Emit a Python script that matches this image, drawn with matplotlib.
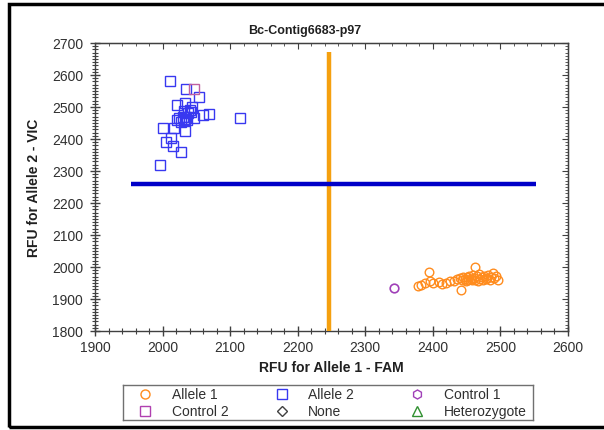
import matplotlib
matplotlib.use("Agg")
import matplotlib.pyplot as plt
from matplotlib.patches import Rectangle
from matplotlib.ticker import MultipleLocator

plt.rcParams['font.family'] = ['Liberation Sans', 'DejaVu Sans']

title = "Bc-Contig6683-p97"
xlabel = "RFU for Allele 1 - FAM"
ylabel = "RFU for Allele 2 - VIC"

# Allele 2 (blue squares)
allele2_x = [2011, 2035, 2054, 2021, 2033, 2043, 2031, 2060, 2068, 2114, 2021, 2033,
             2047, 2028, 2001, 2017, 2033, 2012, 2005, 2016, 2028, 1996,
             2035, 2038, 2030, 2040, 2025, 2036, 2042]
allele2_y = [2582, 2555, 2531, 2505, 2512, 2501, 2488, 2476, 2478, 2465, 2460, 2462,
             2465, 2452, 2434, 2434, 2426, 2403, 2392, 2379, 2360, 2320,
             2470, 2480, 2470, 2490, 2465, 2458, 2485]

# Control 2 (purple square)
control2_x = [2047]
control2_y = [2555]

# Allele 1 (orange circles)
allele1_x = [2378, 2383, 2389, 2394, 2396, 2400, 2409, 2413, 2419, 2425, 2432, 2436,
             2440, 2441, 2443, 2445, 2447, 2449, 2451, 2452, 2454, 2456, 2458, 2459,
             2461, 2463, 2463, 2465, 2467, 2468, 2470, 2472, 2474, 2476, 2478, 2480,
             2482, 2484, 2486, 2489, 2491, 2494, 2496]
allele1_y = [1940, 1944, 1949, 1983, 1956, 1950, 1952, 1947, 1949, 1955, 1957, 1962,
             1966, 1929, 1958, 1970, 1962, 1955, 1968, 1960, 1972, 1963, 1958, 1975,
             1966, 1999, 1960, 1971, 1957, 1978, 1964, 1968, 1959, 1973, 1962, 1967,
             1976, 1960, 1970, 1981, 1965, 1972, 1958]

# Control 1 (purple circle)
control1_x = [2342]
control1_y = [1933]

# Threshold lines
vline_x = 2247
vline_y = [1800, 2672]
hline_y = 2259
hline_x = [1953, 2553]

legend_labels = ["Allele 1", "Allele 2", "Control 1", "Control 2", "None", "Heterozygote"]

W, H = 604, 431
fig = plt.figure(figsize=(W / 100, H / 100), dpi=100)

ax = fig.add_axes([95 / W, 1 - 332 / H, (568 - 95) / W, (332 - 44) / H])
ax.set_xlim(1900, 2600)
ax.set_ylim(1800, 2700)

ax.plot([vline_x, vline_x], vline_y, color='#F5A00F', lw=3.2, solid_capstyle='butt', zorder=3)
ax.plot(hline_x, [hline_y, hline_y], color='#0000C8', lw=3.2, solid_capstyle='butt', zorder=3)

ax.plot(allele2_x, allele2_y, ls='none', marker='s', ms=6.5, mfc='none', mec='#3838F0', mew=1.0, zorder=4)
ax.plot(control2_x, control2_y, ls='none', marker='s', ms=6.5, mfc='none', mec='#C060A0', mew=1.0, zorder=4)
ax.plot(allele1_x, allele1_y, ls='none', marker='o', ms=6.2, mfc='none', mec='#FF8C1E', mew=1.0, zorder=4)
ax.plot(control1_x, control1_y, ls='none', marker='o', ms=6.2, mfc='none', mec='#A040B8', mew=1.2, zorder=4)

spine_c = '#404040'
for s in ax.spines.values():
    s.set_color(spine_c)
    s.set_linewidth(1.0)

ax.xaxis.set_major_locator(MultipleLocator(100))
ax.xaxis.set_minor_locator(MultipleLocator(20))
ax.yaxis.set_major_locator(MultipleLocator(100))
ax.yaxis.set_minor_locator(MultipleLocator(10))
ax.tick_params(which='major', direction='inout', length=7, width=1, color=spine_c,
               labelsize=10, labelcolor='#303030', pad=3)
ax.tick_params(which='minor', direction='inout', length=4, width=0.8, color=spine_c)
ax.tick_params(axis='y', which='major', pad=5)

sx = ax.secondary_xaxis('top')
sx.xaxis.set_major_locator(MultipleLocator(100))
sx.xaxis.set_minor_locator(MultipleLocator(20))
sx.tick_params(which='major', direction='in', length=4, color=spine_c, labeltop=False)
sx.tick_params(which='minor', direction='in', length=2.5, color=spine_c)
sy = ax.secondary_yaxis('right')
sy.yaxis.set_major_locator(MultipleLocator(100))
sy.yaxis.set_minor_locator(MultipleLocator(10))
sy.tick_params(which='major', direction='in', length=4, color=spine_c, labelright=False)
sy.tick_params(which='minor', direction='in', length=2.5, color=spine_c)

fig.text(305 / W, 1 - 31 / H, title, ha='center', va='center', fontsize=9, fontweight='bold', color='#202020')
fig.text(331 / W, 1 - 368 / H, xlabel, ha='center', va='center', fontsize=10, fontweight='bold', color='#202020')
fig.text(34 / W, 1 - 188 / H, ylabel, ha='center', va='center', rotation=90, fontsize=10, fontweight='bold', color='#202020')

# Legend box
lax = fig.add_axes([123 / W, 1 - 421 / H, 410 / W, 35 / H])
lax.set_xlim(0, 410)
lax.set_ylim(35, 0)
lax.set_xticks([])
lax.set_yticks([])
for s in lax.spines.values():
    s.set_color('#707070')
    s.set_linewidth(1.0)
leg_markers = [('o', '#FF8C1E'), ('s', '#3838F0'), ('h', '#A040B8'),
               ('s', '#B040B0'), ('D', '#404040'), ('^', '#309030')]
mx = [22, 159, 294]
tx = [49, 185, 321]
ry = [9, 26]
for i, (lab, (m, c)) in enumerate(zip(legend_labels, leg_markers)):
    r, col = divmod(i, 3)
    ms = 6.5 if m != 'D' else 5
    lax.plot([mx[col]], [ry[r]], marker=m, ms=ms, mfc='none', mec=c, mew=1.0, ls='none')
    lax.text(tx[col], ry[r], lab, ha='left', va='center', fontsize=10, color='#303030')

# Outer frame
fig.patches.append(Rectangle((8.5 / W, 1 - 428 / H), (620 - 8.5) / W, (428 - 5) / H,
                             transform=fig.transFigure, fill=False, ec='black', lw=2.5))

fig.savefig('out.png', dpi=100)
